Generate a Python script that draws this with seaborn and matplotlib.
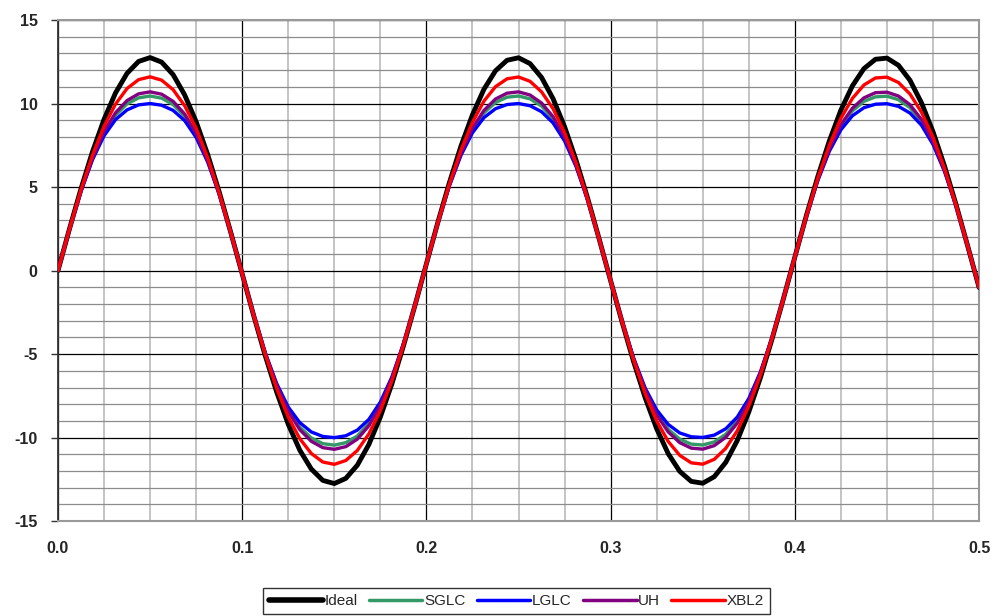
import numpy as np
import pandas as pd
import matplotlib
matplotlib.use("Agg")
import matplotlib.pyplot as plt
from matplotlib.ticker import MultipleLocator, FuncFormatter
import seaborn as sns

# sample times (s), 81 points from 0 to 0.5
t = np.linspace(0.0, 0.5, 81)

ideal = [0.00, 2.50, 4.90, 7.12, 9.05, 10.64, 11.81, 12.52, 12.75, 12.48,
         11.73, 10.52, 8.91, 6.95, 4.71, 2.30, -0.20, -2.70, -5.09, -7.28,
         -9.20, -10.75, -11.88, -12.56, -12.75, -12.44, -11.65, -10.41, -8.76, -6.78,
         -4.52, -2.10, 0.41, 2.90, 5.27, 7.45, 9.33, 10.86, 11.96, 12.59,
         12.74, 12.39, 11.56, 10.29, 8.61, 6.60, 4.34, 1.90, -0.61, -3.09,
         -5.46, -7.61, -9.47, -10.96, -12.02, -12.62, -12.73, -12.34, -11.48, -10.17,
         -8.46, -6.43, -4.14, -1.70, 0.81, 3.29, 5.64, 7.77, 9.61, 11.06,
         12.09, 12.65, 12.72, 12.29, 11.39, 10.04, 8.31, 6.25, 3.95, 1.50, -1.01]

sglc = [0.00, 2.48, 4.77, 6.72, 8.23, 9.30, 9.98, 10.34, 10.45, 10.32,
        9.94, 9.23, 8.13, 6.58, 4.59, 2.29, -0.20, -2.68, -4.94, -6.85,
        -8.34, -9.37, -10.02, -10.36, -10.45, -10.30, -9.90, -9.16, -8.01, -6.43,
        -4.42, -2.09, 0.41, 2.87, 5.11, 6.99, 8.43, 9.44, 10.06, 10.38,
        10.45, 10.28, 9.85, 9.08, 7.90, 6.28, 4.25, 1.89, -0.61, -3.06,
        -5.28, -7.12, -8.53, -9.50, -10.09, -10.39, -10.44, -10.26, -9.80, -9.00,
        -7.79, -6.14, -4.06, -1.69, 0.81, 3.25, 5.44, 7.25, 8.63, 9.56,
        10.13, 10.40, 10.44, 10.23, 9.75, 8.92, 7.67, 5.98, 3.88, 1.50, -1.01]

lglc = [0.00, 2.48, 4.74, 6.64, 8.07, 9.04, 9.62, 9.92, 10.00, 9.90,
        9.59, 8.98, 7.97, 6.50, 4.57, 2.28, -0.20, -2.67, -4.92, -6.77,
        -8.17, -9.10, -9.66, -9.93, -10.00, -9.89, -9.55, -8.91, -7.87, -6.37,
        -4.40, -2.09, 0.41, 2.87, 5.08, 6.90, 8.25, 9.16, 9.69, 9.94,
        10.00, 9.87, 9.51, 8.84, 7.76, 6.22, 4.23, 1.89, -0.61, -3.05,
        -5.24, -7.03, -8.34, -9.21, -9.72, -9.95, -9.99, -9.85, -9.47, -8.77,
        -7.66, -6.08, -4.05, -1.69, 0.80, 3.24, 5.40, 7.15, 8.43, 9.27,
        9.75, 9.96, 9.99, 9.83, 9.43, 8.70, 7.55, 5.93, 3.87, 1.50, -1.01]

uh = [0.00, 2.49, 4.78, 6.76, 8.32, 9.45, 10.18, 10.58, 10.70, 10.56,
      10.13, 9.37, 8.21, 6.62, 4.61, 2.29, -0.20, -2.68, -4.96, -6.90,
      -8.43, -9.52, -10.22, -10.60, -10.70, -10.54, -10.09, -9.29, -8.10, -6.47,
      -4.43, -2.09, 0.41, 2.88, 5.13, 7.04, 8.53, 9.59, 10.27, 10.62,
      10.70, 10.51, 10.03, 9.21, 7.98, 6.32, 4.26, 1.89, -0.61, -3.06,
      -5.30, -7.17, -8.63, -9.66, -10.30, -10.63, -10.69, -10.48, -9.98, -9.13,
      -7.86, -6.17, -4.07, -1.70, 0.81, 3.25, 5.46, 7.31, 8.73, 9.72,
      10.34, 10.65, 10.68, 10.45, 9.93, 9.04, 7.74, 6.01, 3.89, 1.50, -1.01]

xbl2 = [0.00, 2.49, 4.84, 6.92, 8.64, 9.97, 10.90, 11.43, 11.60, 11.40,
        10.83, 9.87, 8.52, 6.76, 4.65, 2.29, -0.20, -2.69, -5.02, -7.07,
        -8.77, -10.06, -10.95, -11.46, -11.60, -11.37, -10.77, -9.78, -8.39, -6.61,
        -4.47, -2.10, 0.41, 2.89, 5.19, 7.22, 8.88, 10.15, 11.01, 11.48,
        11.59, 11.33, 10.70, 9.69, 8.26, 6.44, 4.30, 1.90, -0.61, -3.07,
        -5.37, -7.37, -9.00, -10.23, -11.06, -11.51, -11.59, -11.30, -10.64, -9.59,
        -8.12, -6.28, -4.10, -1.70, 0.81, 3.27, 5.54, 7.51, 9.12, 10.31,
        11.11, 11.53, 11.58, 11.26, 10.57, 9.48, 7.99, 6.11, 3.92, 1.50, -1.01]

series_names = ["Ideal", "SGLC", "LGLC", "UH", "XBL2"]
series_data = [ideal, sglc, lglc, uh, xbl2]
colors = ["#000000", "#339966", "#0000FF", "#800080", "#FF0000"]
widths = [3.5, 2.4, 2.4, 2.4, 2.4]

df = pd.DataFrame({"t": np.tile(t, len(series_names)),
                   "value": np.concatenate(series_data),
                   "series": np.repeat(series_names, len(t))})

sns.set_style("white")
plt.rcParams["font.family"] = ["Liberation Sans", "DejaVu Sans"]
plt.rcParams["axes.unicode_minus"] = False

fig = plt.figure(figsize=(10.05, 6.16), dpi=100)
ax = fig.add_axes([0.0577, 0.154, 0.9165, 0.8135])

for name, col, lw in zip(series_names, colors, widths):
    sub = df[df["series"] == name]
    sns.lineplot(data=sub, x="t", y="value", ax=ax, color=col, lw=lw,
                 label=name, legend=False, zorder=3,
                 solid_joinstyle="round", solid_capstyle="round")

ax.set_xlim(0, 0.5)
ax.set_ylim(-15, 15)
ax.xaxis.set_major_locator(MultipleLocator(0.1))
ax.xaxis.set_minor_locator(MultipleLocator(0.025))
ax.yaxis.set_major_locator(MultipleLocator(5))
ax.yaxis.set_minor_locator(MultipleLocator(1))
ax.xaxis.set_major_formatter(FuncFormatter(lambda v, p: f"{v:.1f}"))
ax.yaxis.set_major_formatter(FuncFormatter(lambda v, p: f"{v:.0f}"))

ax.grid(which="major", color="black", lw=0.9, zorder=1)
ax.grid(which="minor", axis="y", color="#8c8c8c", lw=0.9, zorder=0)
ax.grid(which="minor", axis="x", color="#c4c4c4", lw=1.4, zorder=0)
ax.set_axisbelow(True)

ax.set_xlabel("")
ax.set_ylabel("")
ax.tick_params(axis="x", which="both", length=0, pad=14, labelsize=11.5)
ax.tick_params(axis="y", which="major", length=4.7, width=1, direction="out",
               pad=10, labelsize=11.5, left=True, color="#333333")
ax.tick_params(axis="y", which="minor", length=0)
for lab in ax.get_xticklabels() + ax.get_yticklabels():
    lab.set_fontweight("bold")

ax.spines["left"].set_color("#333333")
ax.spines["left"].set_linewidth(1.3)
for s in ["top", "right", "bottom"]:
    ax.spines[s].set_color("#999999")
    ax.spines[s].set_linewidth(1.5)

handles, labels = ax.get_legend_handles_labels()
leg = fig.legend(handles, labels, loc="upper center", bbox_to_anchor=(0.514, 0.0455),
                 ncol=5, frameon=True, fancybox=False, edgecolor="black",
                 fontsize=11, handlelength=3.5, handletextpad=0.1,
                 columnspacing=0.75, borderpad=0.4, borderaxespad=0)
leg.get_frame().set_linewidth(1.0)
for h, lw in zip(leg.get_lines(), [4.0, 2.5, 2.5, 2.5, 2.5]):
    h.set_linewidth(lw)
    h.set_solid_capstyle("round")

fig.savefig("out.png", dpi=100)
